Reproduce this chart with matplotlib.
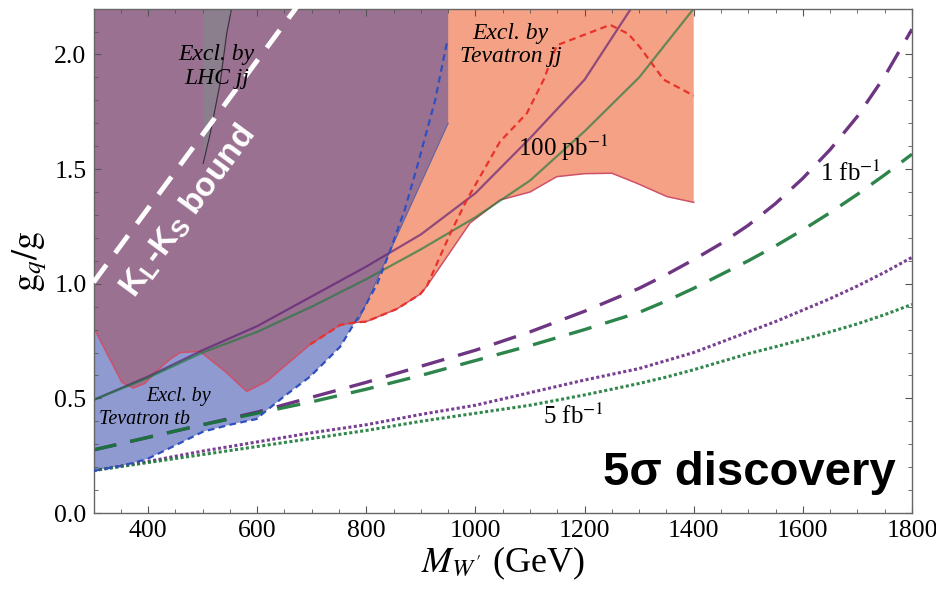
import numpy as np
import matplotlib
matplotlib.use("Agg")
import matplotlib.pyplot as plt
from matplotlib.patches import Polygon
from matplotlib.ticker import MultipleLocator

plt.rcParams['font.family'] = 'serif'
plt.rcParams['font.serif'] = ['Liberation Serif', 'DejaVu Serif']
plt.rcParams['mathtext.fontset'] = 'stix'

# Tevatron tb exclusion: lower edge (blue dashed) and the straight edge up to the top
tb_x = [300, 350, 398, 450, 501, 550, 599, 611, 650, 697, 752, 776, 795, 820, 844, 870, 893, 926, 948]
tb_y = [0.184, 0.205, 0.235, 0.295, 0.355, 0.385, 0.41, 0.435, 0.51, 0.595, 0.725, 0.82, 0.89, 1.0, 1.147, 1.32, 1.51, 1.80, 2.056]
tb_edge_x = [786, 950, 950]
tb_edge_y = [0.842, 1.70, 2.2]

# Tevatron jj exclusion: lower edge
jj_x = [300, 352, 373, 394, 416, 440, 459, 495, 540, 581, 618, 660, 697, 752, 776, 800, 856, 899, 911,
        990, 1045, 1100, 1149, 1200, 1250, 1296, 1351, 1400]
jj_y = [0.81, 0.57, 0.545, 0.565, 0.62, 0.67, 0.70, 0.705, 0.62, 0.53, 0.575, 0.66, 0.735, 0.82, 0.83, 0.835, 0.89, 0.955, 0.99,
        1.265, 1.365, 1.40, 1.467, 1.48, 1.482, 1.438, 1.38, 1.355]
# red dashed curve (Tevatron jj)
jjd_x = [697, 752, 776, 800, 856, 899, 911, 954, 984, 1045, 1094, 1125, 1149, 1204, 1247, 1280, 1302, 1345, 1400]
jjd_y = [0.735, 0.82, 0.83, 0.835, 0.89, 0.955, 0.99, 1.22, 1.365, 1.62, 1.743, 1.89, 2.04, 2.09, 2.129, 2.09, 2.03, 1.89, 1.82]

# LHC jj sliver
lhc_x = [501, 514, 532, 544, 553]
lhc_y = [1.525, 1.656, 1.874, 2.09, 2.2]

# K_L - K_S bound
kk_x = [300, 689]
kk_y = [1.006, 2.26]

# 5 sigma discovery reach, 100 pb^-1 (solid)
m_a = [300, 400, 500, 600, 700, 800, 900, 1000, 1100, 1200, 1285]
pb100_purple = [0.493, 0.595, 0.71, 0.815, 0.945, 1.075, 1.215, 1.395, 1.635, 1.89, 2.2]
m_b = [300, 400, 500, 600, 700, 800, 900, 1000, 1100, 1200, 1300, 1400]
pb100_green = [0.493, 0.59, 0.70, 0.79, 0.90, 1.02, 1.15, 1.29, 1.45, 1.665, 1.90, 2.2]

# 1 fb^-1 (dashed) and 5 fb^-1 (dotted)
m = [300, 400, 500, 600, 700, 800, 900, 1000, 1100, 1200, 1300, 1350, 1400, 1450, 1500, 1550, 1600, 1650, 1700, 1750, 1800]
fb1_purple = [0.275, 0.33, 0.385, 0.44, 0.505, 0.57, 0.64, 0.71, 0.79, 0.88, 0.98, 1.04, 1.105, 1.175, 1.255, 1.35, 1.46, 1.585, 1.73, 1.905, 2.11]
fb1_green = [0.275, 0.33, 0.385, 0.435, 0.485, 0.54, 0.60, 0.665, 0.73, 0.80, 0.875, 0.925, 0.98, 1.04, 1.10, 1.165, 1.235, 1.31, 1.39, 1.475, 1.565]
fb5_purple = [0.185, 0.225, 0.27, 0.31, 0.35, 0.385, 0.43, 0.47, 0.525, 0.58, 0.63, 0.665, 0.70, 0.745, 0.79, 0.835, 0.885, 0.935, 0.99, 1.05, 1.115]
fb5_green = [0.185, 0.22, 0.255, 0.29, 0.325, 0.36, 0.40, 0.435, 0.47, 0.515, 0.565, 0.593, 0.625, 0.66, 0.695, 0.725, 0.757, 0.79, 0.825, 0.865, 0.91]

x_lim = (300, 1800)
y_lim = (0, 2.2)

fig = plt.figure(figsize=(9.37, 5.97), dpi=100)
ax = fig.add_axes([0.0998, 0.1407, 0.8735, 0.8449])

# exclusion regions
n_tb = sum(1 for x in tb_x if x < tb_edge_x[0])
tb_verts = list(zip(tb_x[:n_tb], tb_y[:n_tb])) + list(zip(tb_edge_x, tb_edge_y)) + [(x_lim[0], y_lim[1])]
tb_patch = Polygon(tb_verts, closed=True, facecolor='#8f9ad0', edgecolor='none', zorder=1)
ax.add_patch(tb_patch)

jj_verts = [(jj_x[0], y_lim[1])] + list(zip(jj_x, jj_y)) + [(jj_x[-1], y_lim[1])]
ax.add_patch(Polygon(jj_verts, closed=True, facecolor='#f5a185', edgecolor='none', zorder=1))
overlap = Polygon(jj_verts, closed=True, facecolor='#9b7192', edgecolor='none', zorder=1.1)
ax.add_patch(overlap)
overlap.set_clip_path(tb_patch)

lhc_verts = [(lhc_x[0], lhc_y[-1])] + list(zip(lhc_x, lhc_y))
ax.add_patch(Polygon(lhc_verts, closed=True, facecolor='#8b7e8d', edgecolor='none', zorder=1.2))
ax.plot(lhc_x, lhc_y, color='#3a2c3c', lw=0.8, zorder=1.3)

ax.plot(jj_x, jj_y, color='#cf5068', lw=1.1, zorder=1.3)
ax.plot(tb_edge_x[:2], tb_edge_y[:2], color='#5d64a6', lw=0.8, zorder=1.3)

# discovery curves
ax.plot(m_a, pb100_purple, color='#5a1a72', lw=1.6, alpha=0.65, zorder=2)
ax.plot(m_b, pb100_green, color='#1a7a3a', lw=1.6, alpha=0.65, zorder=2)
ax.plot(m, fb1_purple, color='#5e1f76', lw=2.4, dashes=(7, 4.3), alpha=0.9, zorder=2)
ax.plot(m, fb1_green, color='#167838', lw=2.4, dashes=(7, 4.3), alpha=0.9, zorder=2)
ax.plot(m, fb5_purple, color='#6a2a86', lw=2.2, dashes=(1, 0.8), alpha=0.9, zorder=2)
ax.plot(m, fb5_green, color='#1c7a3a', lw=2.2, dashes=(1, 0.8), alpha=0.9, zorder=2)

ax.plot(tb_x, tb_y, color='#3050c0', lw=1.6, dashes=(3, 2), zorder=3)
ax.plot(jjd_x, jjd_y, color='#e8322a', lw=1.6, dashes=(3, 2), zorder=3)

ax.plot(kk_x, kk_y, color='white', lw=3.5, dashes=(4.5, 3), zorder=4, clip_on=False)

# labels
ax.text(473, 1.314, r'K$_\mathregular{L}$-K$_\mathregular{S}$ bound', color='white', fontsize=24,
        family='Liberation Sans', weight='bold', rotation=53.6, rotation_mode='anchor',
        ha='center', va='center', zorder=5)
ax.text(526, 1.947, 'Excl. by\nLHC jj', fontsize=17, style='italic', ha='center', va='center',
        linespacing=1.15, zorder=5)
ax.text(1064, 2.04, 'Excl. by\nTevatron jj', fontsize=17, style='italic', ha='center', va='center',
        linespacing=1.15, zorder=5)
ax.text(456, 0.507, 'Excl. by', fontsize=14.5, style='italic', ha='center', va='center', zorder=5)
ax.text(394, 0.406, 'Tevatron tb', fontsize=14.5, style='italic', ha='center', va='center', zorder=5)
ax.text(1161, 1.592, r'100 pb$^{-1}$', fontsize=18, ha='center', va='center', zorder=5)
ax.text(1687, 1.483, r'1 fb$^{-1}$', fontsize=18, ha='center', va='center', zorder=5)
ax.text(1180, 0.423, r'5 fb$^{-1}$', fontsize=18, ha='center', va='center', zorder=5)
ax.text(1770, 0.122, '5σ discovery', fontsize=34, family='Liberation Sans', weight='bold',
        ha='right', va='baseline', zorder=5)

ax.set_xlim(*x_lim)
ax.set_ylim(*y_lim)
ax.xaxis.set_major_locator(MultipleLocator(200))
ax.xaxis.set_minor_locator(MultipleLocator(50))
ax.yaxis.set_major_locator(MultipleLocator(0.5))
ax.yaxis.set_minor_locator(MultipleLocator(0.1))
ax.yaxis.set_major_formatter(matplotlib.ticker.FormatStrFormatter('%.1f'))
ax.tick_params(which='both', direction='in', top=True, right=True, color='#555555', labelsize=18.5)
ax.tick_params(which='major', length=5, pad=5)
ax.tick_params(which='minor', length=3)
for s in ax.spines.values():
    s.set_color('#666666')
    s.set_linewidth(1)

ax.set_xlabel(r"$M_{W'}$ (GeV)", fontsize=26, labelpad=2)
ax.set_ylabel(r'$\mathrm{g}_q/\mathrm{g}$', fontsize=26, labelpad=4)

fig.savefig('out.png', dpi=100)
